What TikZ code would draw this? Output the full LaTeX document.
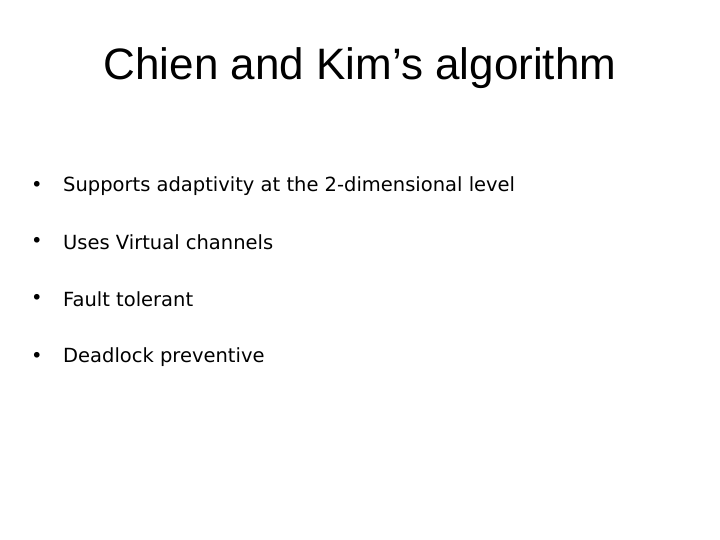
\documentclass[tikz,border=0pt]{standalone}
\usepackage{fontspec}
\setmainfont{DejaVu Sans}
\newfontfamily\titlefont{Liberation Sans}
\usetikzlibrary{positioning}
\tikzset{
  item/.style={anchor=west,font=\fontsize{19.5}{23}\selectfont,inner sep=0pt},
  dot/.style={anchor=west,font=\fontsize{19.5}{23}\selectfont,inner sep=0pt}
}
\begin{document}
\begin{tikzpicture}[x=1pt,y=-1pt]
    \useasboundingbox (0,0) rectangle (720,540);
    \node[font=\titlefont\fontsize{44}{50}\selectfont] (title) at (360,68) {Chien and Kim’s algorithm};
    % bullet list
    \foreach \name/\y/\txt in {b1/186/Supports adaptivity at the 2-dimensional level,
                              b2/242/Uses Virtual channels,
                              b3/299/Fault tolerant,
                              b4/357/Deadlock preventive}{
      \node[dot] (\name dot) at (31,\y) {•};
      \node[item] (\name) at (63,\y) {\txt};
    }
\end{tikzpicture}
\end{document}
